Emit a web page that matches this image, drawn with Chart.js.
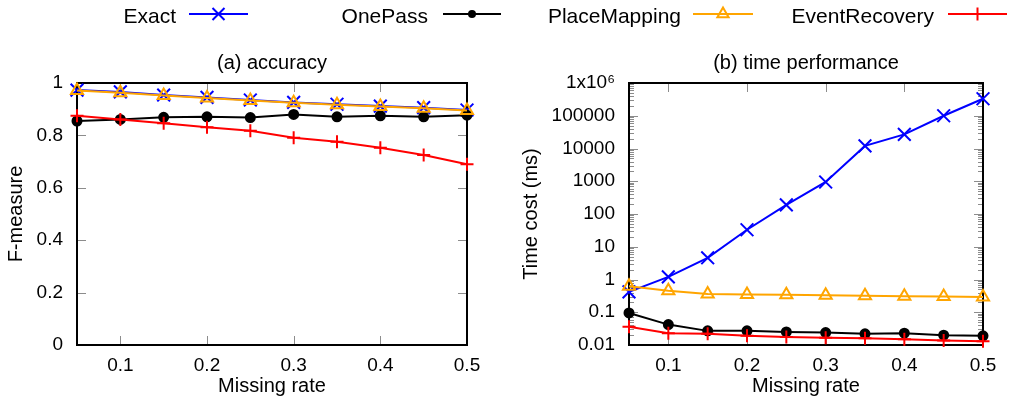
<!DOCTYPE html>
<html>
<head>
<meta charset="utf-8">
<script src="https://cdn.jsdelivr.net/npm/chart.js@4.4.1/dist/chart.umd.min.js"></script>
<style>
html, body { margin: 0; padding: 0; background: #fff; }
#wrap { position: relative; width: 1011px; height: 403px; overflow: hidden; font-family: "Liberation Sans", Arial, sans-serif; }
#left { position: absolute; left: 0; top: 0; }
#right { position: absolute; left: 505px; top: 0; }
.key { position: absolute; top: 5px; font-size: 21px; line-height: 22px; color: #000; white-space: nowrap; text-align: right; }
svg.sample { position: absolute; top: 0; overflow: visible; }
</style>
</head>
<body>
<div id="wrap">
  <canvas id="left" width="505" height="403"></canvas>
  <canvas id="right" width="506" height="403"></canvas>
</div>
<script>
// data
const missingRate = [0.05, 0.1, 0.15, 0.2, 0.25, 0.3, 0.35, 0.4, 0.45, 0.5];
const seriesNames = ['Exact', 'OnePass', 'PlaceMapping', 'EventRecovery'];

const accExact = [0.973, 0.966, 0.954, 0.945, 0.935, 0.926, 0.919, 0.912, 0.906, 0.897];
const accOnePass = [0.855, 0.861, 0.869, 0.871, 0.868, 0.880, 0.871, 0.875, 0.871, 0.877];
const accPlaceMapping = [0.971, 0.963, 0.952, 0.943, 0.933, 0.925, 0.917, 0.910, 0.904, 0.895];
const accEventRecovery = [0.875, 0.861, 0.846, 0.831, 0.818, 0.791, 0.776, 0.753, 0.725, 0.690];

const timeExact = [0.42, 1.2, 4.6, 33, 190, 950, 12000, 27000, 100000, 330000];
const timeOnePass = [0.095, 0.042, 0.027, 0.027, 0.025, 0.024, 0.022, 0.023, 0.020, 0.019];
const timePlaceMapping = [0.62, 0.45, 0.36, 0.35, 0.34, 0.33, 0.32, 0.31, 0.30, 0.29];
const timeEventRecovery = [0.036, 0.023, 0.022, 0.019, 0.0175, 0.0166, 0.016, 0.015, 0.0138, 0.013];

const rateTicks = [0.1, 0.2, 0.3, 0.4, 0.5];
const accTicks = [0, 0.2, 0.4, 0.6, 0.8, 1];
const timeTicks = [0.01, 0.1, 1, 10, 100, 1000, 10000, 100000, 1000000];
const timeTickLabels = ['0.01', '0.1', '1', '10', '100', '1000', '10000', '100000', '1x10\u2076'];

// styles
const seriesColors = ['#0000ff', '#000000', '#ffa500', '#ff0000'];
const seriesFill = ['#0000ff', '#000000', 'rgba(0,0,0,0)', '#ff0000'];
const seriesMarkers = ['crossRot', 'circle', 'triangle', 'cross'];
const seriesRadius = [9, 4.5, 7, 6.5];

Chart.defaults.font.family = '"Liberation Sans", Arial, sans-serif';
Chart.defaults.color = '#000';

function makeSets(values) {
    return values.map((vals, i) => ({
        label: seriesNames[i],
        data: missingRate.map((x, j) => ({ x: x, y: vals[j] })),
        borderColor: seriesColors[i],
        backgroundColor: seriesFill[i],
        borderWidth: 2,
        pointStyle: seriesMarkers[i],
        pointRadius: seriesRadius[i],
        pointBorderWidth: 2,
        pointBorderColor: seriesColors[i],
        pointBackgroundColor: seriesFill[i],
        tension: 0,
        clip: false,
        order: 4 - i
    }));
}

// gnuplot-like box with inward ticks on all four sides
const frame = {
    id: 'frame',
    beforeDatasetsDraw(chart) {
        const { ctx, chartArea: a, scales } = chart;
        ctx.save();
        ctx.strokeStyle = '#8c8c8c';
        ctx.lineWidth = 1;
        const seg = (x1, y1, x2, y2) => { ctx.beginPath(); ctx.moveTo(x1, y1); ctx.lineTo(x2, y2); ctx.stroke(); };
        scales.x.ticks.forEach(t => {
            const px = Math.round(scales.x.getPixelForValue(t.value)) + 0.5;
            seg(px, a.bottom, px, a.bottom - 9);
            seg(px, a.top, px, a.top + 9);
        });
        scales.y.ticks.forEach(t => {
            const py = Math.round(scales.y.getPixelForValue(t.value)) + 0.5;
            const len = t.major === false ? 5 : 9;
            seg(a.left, py, a.left + len, py);
            seg(a.right, py, a.right - len, py);
        });
        ctx.strokeStyle = '#000';
        ctx.lineWidth = 2;
        ctx.strokeRect(a.left, a.top, a.right - a.left, a.bottom - a.top);
        ctx.restore();
    }
};

const xScale = {
    type: 'linear',
    min: 0.05,
    max: 0.5,
    grid: { display: false, drawTicks: false },
    border: { display: false },
    afterBuildTicks: s => { s.ticks = rateTicks.map(v => ({ value: v })); },
    afterFit: s => { s.height = 58; },
    ticks: { padding: 9, font: { size: 19 }, autoSkip: false, maxRotation: 0, callback: v => String(v) },
    title: { display: true, text: 'Missing rate', font: { size: 20 }, padding: { top: 0, bottom: 5 } }
};

function titleOpts(text) {
    return { display: true, text: text, font: { size: 20, weight: 'normal' }, color: '#000', padding: { top: 0, bottom: 8 }, fullSize: false };
}

new Chart(document.getElementById('left'), {
    type: 'line',
    data: { datasets: makeSets([accExact, accOnePass, accPlaceMapping, accEventRecovery]) },
    options: {
        responsive: false,
        animation: false,
        layout: { padding: { left: 0, right: 38, top: 51, bottom: 0 } },
        plugins: { legend: { display: false }, tooltip: { enabled: false }, title: titleOpts('(a) accuracy') },
        scales: {
            x: xScale,
            y: {
                type: 'linear',
                min: 0,
                max: 1,
                grid: { display: false, drawTicks: false },
                border: { display: false },
                afterBuildTicks: s => { s.ticks = accTicks.map(v => ({ value: v })); },
                afterFit: s => { s.width = 77; },
                ticks: { padding: 14, font: { size: 19 }, autoSkip: false, callback: v => String(v) },
                title: { display: true, text: 'F-measure', font: { size: 20 }, padding: { top: 4, bottom: 0 } }
            }
        }
    },
    plugins: [frame]
});

new Chart(document.getElementById('right'), {
    type: 'line',
    data: { datasets: makeSets([timeExact, timeOnePass, timePlaceMapping, timeEventRecovery]) },
    options: {
        responsive: false,
        animation: false,
        layout: { padding: { left: 0, right: 28, top: 51, bottom: 0 } },
        plugins: { legend: { display: false }, tooltip: { enabled: false }, title: titleOpts('(b) time performance') },
        scales: {
            x: Object.assign({}, xScale),
            y: {
                type: 'logarithmic',
                min: 0.01,
                max: 1000000,
                grid: { display: false, drawTicks: false },
                border: { display: false },
                afterBuildTicks: s => {
                    const ticks = [];
                    timeTicks.forEach((d, i) => {
                        ticks.push({ value: d, major: true });
                        if (i < timeTicks.length - 1) {
                            for (let k = 2; k <= 9; k++) ticks.push({ value: k * d, major: false });
                        }
                    });
                    s.ticks = ticks;
                },
                afterFit: s => { s.width = 124; },
                ticks: {
                    padding: 14,
                    font: { size: 19 },
                    autoSkip: false,
                    callback: v => {
                        const i = timeTicks.findIndex(t => Math.abs(t - v) / t < 1e-9);
                        return i >= 0 ? timeTickLabels[i] : '';
                    }
                },
                title: { display: true, text: 'Time cost (ms)', font: { size: 20 }, padding: { top: 14, bottom: 0 } }
            }
        }
    },
    plugins: [frame]
});

// key across the top, gnuplot style: text then line sample
const keyTextEnd = [176, 428, 681, 934];
const keySample = [[189, 248], [443, 501], [693, 753], [948, 1007]];
const wrap = document.getElementById('wrap');
const NS = 'http://www.w3.org/2000/svg';

seriesNames.forEach((name, i) => {
    const label = document.createElement('div');
    label.className = 'key';
    label.style.right = (1011 - keyTextEnd[i]) + 'px';
    label.textContent = name;
    wrap.appendChild(label);

    const [x1, x2] = keySample[i];
    const svg = document.createElementNS(NS, 'svg');
    svg.setAttribute('class', 'sample');
    svg.setAttribute('width', x2 - x1);
    svg.setAttribute('height', 30);
    svg.style.left = x1 + 'px';
    const c = seriesColors[i];
    const cx = (x2 - x1) / 2, cy = 14;
    let marker = '';
    if (seriesMarkers[i] === 'crossRot') {
        marker = `<path d="M${cx - 6} ${cy - 6}L${cx + 6} ${cy + 6}M${cx - 6} ${cy + 6}L${cx + 6} ${cy - 6}" stroke="${c}" stroke-width="2"/>`;
    } else if (seriesMarkers[i] === 'circle') {
        marker = `<circle cx="${cx}" cy="${cy}" r="4" fill="${c}"/>`;
    } else if (seriesMarkers[i] === 'triangle') {
        marker = `<path d="M${cx} ${cy - 6.5}L${cx + 5.6} ${cy + 3.2}L${cx - 5.6} ${cy + 3.2}Z" stroke="${c}" stroke-width="2" fill="none"/>`;
    } else {
        marker = `<path d="M${cx - 6.5} ${cy}L${cx + 6.5} ${cy}M${cx} ${cy - 6.5}L${cx} ${cy + 6.5}" stroke="${c}" stroke-width="2"/>`;
    }
    svg.innerHTML = `<line x1="0" y1="${cy}" x2="${x2 - x1}" y2="${cy}" stroke="${c}" stroke-width="2"/>` + marker;
    wrap.appendChild(svg);
});
</script>
</body>
</html>
